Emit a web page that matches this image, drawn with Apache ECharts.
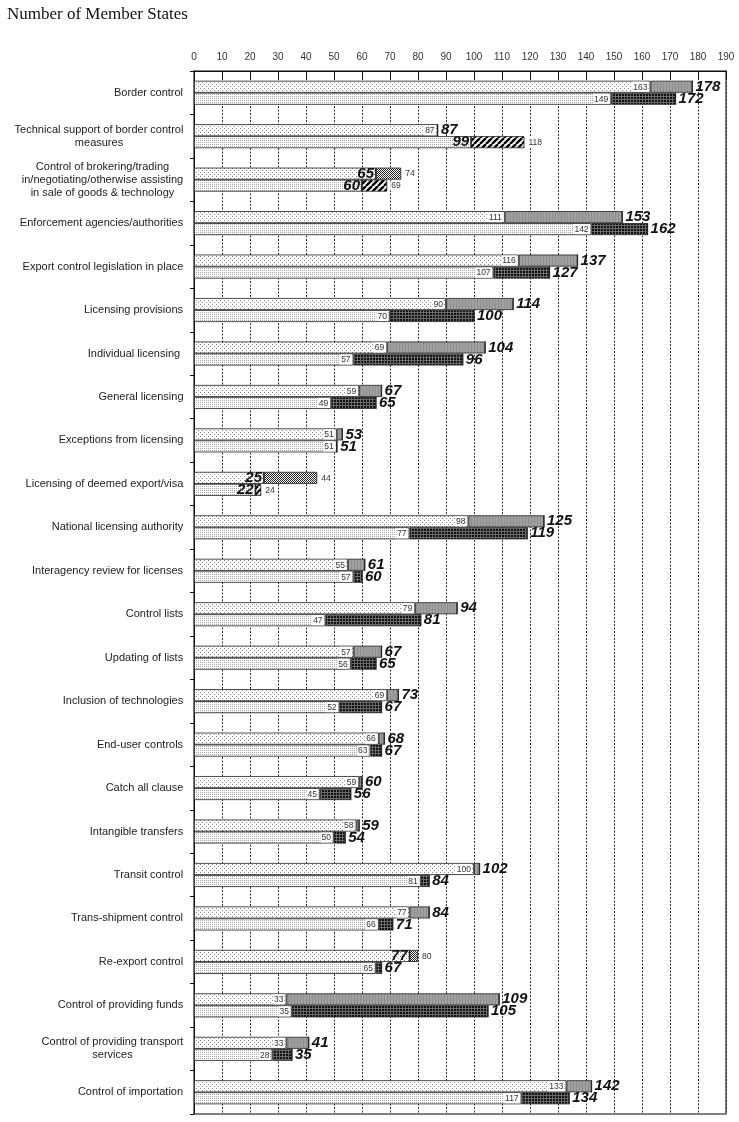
<!DOCTYPE html>
<html>
<head>
<meta charset="utf-8">
<script src="https://cdn.jsdelivr.net/npm/echarts@6/dist/echarts.min.js"></script>
<style>html,body{margin:0;padding:0;background:#fff;}#c{width:739px;height:1122px;}</style>
</head>
<body>
<div id="c"></div>
<script>
const categories = [
  'Border control',
  'Technical support of border control\nmeasures',
  'Control of brokering/trading\nin/negotiating/otherwise assisting\nin sale of goods & technology',
  'Enforcement agencies/authorities',
  'Export control legislation in place',
  'Licensing provisions',
  'Individual licensing ',
  'General licensing',
  'Exceptions from licensing',
  'Licensing of deemed export/visa',
  'National licensing authority',
  'Interagency review for licenses',
  'Control lists',
  'Updating of lists',
  'Inclusion of technologies',
  'End-user controls',
  'Catch all clause',
  'Intangible transfers',
  'Transit control',
  'Trans-shipment control',
  'Re-export control',
  'Control of providing funds',
  'Control of providing transport\nservices',
  'Control of importation'
];
// upper bar of each pair
const topBase   = [163, 87, 65, 111, 116, 90, 69, 59, 51, 25, 98, 55, 79, 57, 69, 66, 59, 58, 100, 77, 77, 33, 33, 133];
const topTotal  = [178, 87, null, 153, 137, 114, 104, 67, 53, null, 125, 61, 94, 67, 73, 68, 60, 59, 102, 84, null, 109, 41, 142];
const topFormer = [null, null, 74, null, null, null, null, null, null, 44, null, null, null, null, null, null, null, null, null, null, 80, null, null, null];
// lower bar of each pair
const botBase   = [149, 99, 60, 142, 107, 70, 57, 49, 51, 22, 77, 57, 47, 56, 52, 63, 45, 50, 81, 66, 65, 35, 28, 117];
const botTotal  = [172, null, null, 162, 127, 100, 96, 65, 51, null, 119, 60, 81, 65, 67, 67, 56, 54, 84, 71, 67, 105, 35, 134];
const botFormer = [null, 118, 69, null, null, null, null, null, null, 24, null, null, null, null, null, null, null, null, null, null, null, null, null, null];
const xTicks = {min: 0, max: 190, interval: 10};

function pat(w, h, draw) {
  const c = document.createElement('canvas');
  c.width = w; c.height = h;
  const g = c.getContext('2d');
  draw(g);
  return {image: c, repeat: 'repeat'};
}
const dotsTop = pat(4, 4, g => { g.fillStyle = '#fff'; g.fillRect(0,0,4,4); g.fillStyle = '#8a8a8a'; g.fillRect(0,0,1,1); g.fillRect(2,2,1,1); });
const dotsBot = pat(2, 2, g => { g.fillStyle = '#fff'; g.fillRect(0,0,2,2); g.fillStyle = '#a8a8a8'; g.fillRect(0,0,1,1); });
const grayInc = pat(3, 3, g => { g.fillStyle = '#a0a0a0'; g.fillRect(0,0,3,3); g.fillStyle = '#8e8e8e'; g.fillRect(0,0,1,3); });
const darkInc = pat(3, 3, g => { g.fillStyle = '#111'; g.fillRect(0,0,3,3); g.fillStyle = '#6a6a6a'; g.fillRect(0,0,3,1); g.fillRect(0,0,1,3); });
const checker = pat(2, 2, g => { g.fillStyle = '#fff'; g.fillRect(0,0,2,2); g.fillStyle = '#222'; g.fillRect(0,0,1,1); g.fillRect(1,1,1,1); });
const diag = pat(6, 6, g => {
  g.fillStyle = '#fff'; g.fillRect(0,0,6,6);
  g.strokeStyle = '#000'; g.lineWidth = 2.4;
  for (let k = -6; k <= 12; k += 6) { g.beginPath(); g.moveTo(k, 6); g.lineTo(k + 6, 0); g.stroke(); }
});

const FONT = '"Liberation Sans", Arial, sans-serif';
const rich = {
  s: {fontSize: 8.5, color: '#333', backgroundColor: '#fff', padding: [1, 1, 0, 1], fontFamily: FONT},
  b: {fontSize: 15, fontWeight: 'bold', fontStyle: 'italic', color: '#111', fontFamily: FONT}
};

function incOf(base, total) { return base.map((v, i) => total[i] == null ? 0 : total[i] - v); }
function decOf(base, former) { return base.map((v, i) => former[i] == null ? 0 : former[i] - v); }

const border = {borderColor: '#222', borderWidth: 0.8};
function mk(name, stack, data, color, labelPos, fmt) {
  return {
    name, type: 'bar', stack, data, barWidth: 12, barGap: '0%',
    itemStyle: Object.assign({color}, border),
    label: {show: true, position: labelPos, distance: labelPos === 'right' ? 3 : 2, formatter: fmt, rich},
    emphasis: {disabled: true}, animation: false
  };
}
function series(prefix, stack, base, total, former, dotPat, incPat, decPat) {
  return [
    mk(prefix + 'base', stack, base, dotPat, 'insideRight',
       p => former[p.dataIndex] != null ? '{b|' + base[p.dataIndex] + '}' : '{s|' + base[p.dataIndex] + '}'),
    mk(prefix + 'inc', stack, incOf(base, total), incPat, 'right',
       p => total[p.dataIndex] != null ? '{b|' + total[p.dataIndex] + '}' : ''),
    mk(prefix + 'dec', stack, decOf(base, former), decPat, 'right',
       p => former[p.dataIndex] != null ? '{s|' + former[p.dataIndex] + '}' : '')
  ];
}

// multi-line category labels: centred lines in a right-aligned block
const mctx = document.createElement('canvas').getContext('2d');
mctx.font = '11px "Liberation Sans"';
const yRich = {};
categories.forEach((c, i) => {
  const w = Math.max(...c.split('\n').map(l => mctx.measureText(l).width));
  yRich['c' + i] = {width: Math.ceil(w) + 1, align: 'center', fontSize: 11, fontFamily: FONT, color: '#222', lineHeight: 13};
});

const chart = echarts.init(document.getElementById('c'), null, {renderer: 'canvas'});
chart.setOption({
  animation: false,
  title: {text: 'Number of Member States', left: 7, top: 6, padding: 0,
          textStyle: {fontFamily: '"Liberation Serif", "Times New Roman", serif', fontSize: 17, fontWeight: 'normal', color: '#111'}},
  grid: {left: 194, right: 13, top: 71, bottom: 8, show: true, borderColor: '#555', borderWidth: 1.5, backgroundColor: 'transparent'},
  xAxis: {
    type: 'value', position: 'top', min: xTicks.min, max: xTicks.max, interval: xTicks.interval,
    axisLine: {show: true, lineStyle: {color: '#111', width: 1}},
    axisTick: {show: true, inside: true, length: 9, lineStyle: {color: '#111'}},
    axisLabel: {fontSize: 10, color: '#333', fontFamily: FONT, margin: 9},
    splitLine: {show: true, lineStyle: {color: '#333', type: [2, 1.5], width: 1}}
  },
  yAxis: {
    type: 'category', inverse: true, data: categories,
    axisLine: {show: true, lineStyle: {color: '#111', width: 1}},
    axisTick: {show: true, length: 4, lineStyle: {color: '#111'}},
    axisLabel: {margin: 10, fontSize: 11, fontFamily: FONT, color: '#222', lineHeight: 13, rich: yRich,
      formatter: (v, i) => v.split('\n').map(l => '{c' + i + '|' + l + '}').join('\n')},
    splitLine: {show: false}
  },
  series: [
    ...series('top', 'a', topBase, topTotal, topFormer, dotsTop, grayInc, checker),
    ...series('bot', 'b', botBase, botTotal, botFormer, dotsBot, darkInc, diag)
  ]
});
</script>
</body>
</html>
